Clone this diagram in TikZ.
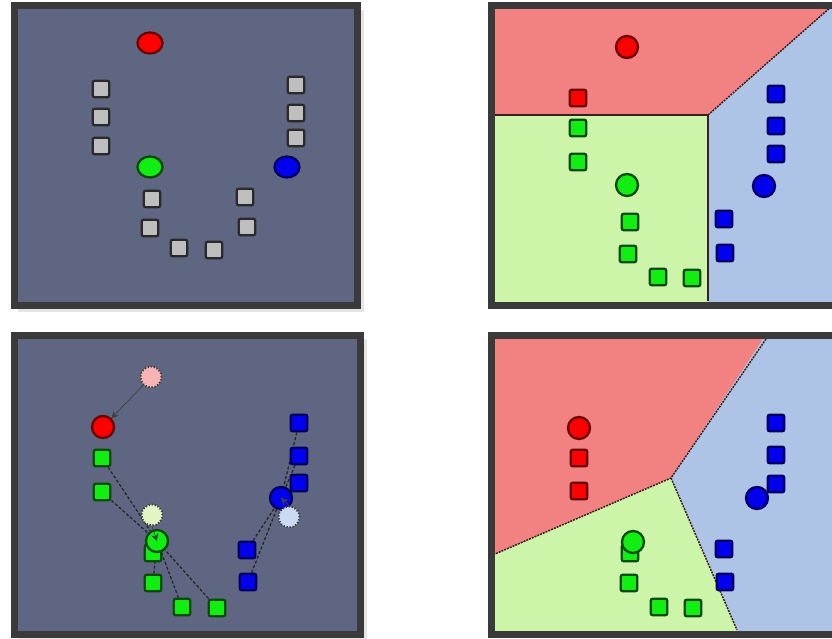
\documentclass[tikz,border=0pt]{standalone}
\usetikzlibrary{shapes.geometric,arrows.meta}
\pgfdeclarelayer{bg}
\pgfdeclarelayer{edges}
\pgfsetlayers{bg,edges,main}
\definecolor{framec}{HTML}{3A3A3A}
\definecolor{panelbg}{HTML}{5F6682}
\definecolor{regred}{HTML}{F28282}
\definecolor{reggreen}{HTML}{CCF5AA}
\definecolor{regblue}{HTML}{AEC4E6}
\definecolor{ptred}{HTML}{FF0000}
\definecolor{edred}{HTML}{6A0000}
\definecolor{ptgreen}{HTML}{11EE11}
\definecolor{edgreen}{HTML}{0A4A0A}
\definecolor{ptblue}{HTML}{0000EE}
\definecolor{edblue}{HTML}{000060}
\definecolor{sqgray}{HTML}{BEBEBE}
\definecolor{sqedge}{HTML}{2A2A2A}
\definecolor{palered}{HTML}{F8B4B4}
\definecolor{palegreen}{HTML}{E2F6C4}
\definecolor{paleblue}{HTML}{CADAF2}
\definecolor{bordc}{HTML}{3A2020}
\begin{document}
\begin{tikzpicture}[x=1pt,y=-1pt,
  frame/.style={draw=framec, line width=7pt},
  shadowbox/.style={fill=black!10},
  sqr/.style={rectangle, minimum size=16.5pt, inner sep=0pt, rounded corners=2pt, line width=2.3pt},
  grsq/.style={sqr, fill=sqgray, draw=sqedge},
  rsq/.style={sqr, fill=ptred, draw=edred},
  gsq/.style={sqr, fill=ptgreen, draw=edgreen},
  bsq/.style={sqr, fill=ptblue, draw=edblue},
  cen/.style={circle, minimum size=22pt, inner sep=0pt, line width=2.3pt},
  rcen/.style={cen, fill=ptred, draw=edred},
  gcen/.style={cen, fill=ptgreen, draw=edgreen},
  bcen/.style={cen, fill=ptblue, draw=edblue},
  oval/.style={ellipse, minimum width=25pt, minimum height=21pt, inner sep=0pt, line width=2.3pt},
  ghost/.style={circle, minimum size=21pt, inner sep=0pt, line width=2pt, draw=black!75, dash pattern=on 1.3pt off 1.8pt},
  link/.style={draw=black!85, line width=1.3pt, densely dashed},
  move/.style={draw=black!75, line width=0.7pt, -{Stealth[length=7pt,width=7pt]}},
  vline/.style={draw=bordc, line width=1.5pt},
  vdash/.style={draw=bordc, line width=1.5pt, dash pattern=on 2pt off 1pt}]
\useasboundingbox (0,0) rectangle (832,639);

\begin{pgfonlayer}{bg}
  % shadows
  \fill[shadowbox] (18,10) rectangle (364,312);
  \fill[shadowbox] (18,339) rectangle (367,639);
  % panel 1
  \fill[panelbg] (14,6) rectangle (357,305);
  \draw[frame] (14,6) rectangle (357,305);
  % panel 2 regions
  \fill[regred] (491,6) -- (832,6) -- (708,115) -- (491,115) -- cycle;
  \fill[reggreen] (491,115) -- (708,115) -- (708,305) -- (491,305) -- cycle;
  \fill[regblue] (708,115) -- (832,6) -- (832,305) -- (708,305) -- cycle;
  \draw[vline] (495,115) -- (708,115) -- (708,301);
  \draw[vdash] (708,115) -- (832,6);
  \draw[frame] (832,6) -- (491,6) -- (491,305) -- (832,305);
  % panel 3
  \fill[panelbg] (14.5,335.5) rectangle (360,634);
  \draw[frame] (14.5,335.5) rectangle (360,634);
  % panel 4 regions
  \fill[regred] (491,335) -- (766,335) -- (671,478) -- (491,556) -- cycle;
  \fill[regblue] (766,335) -- (832,335) -- (832,634) -- (739,634) -- (671,478) -- cycle;
  \fill[reggreen] (491,556) -- (671,478) -- (739,634) -- (491,634) -- cycle;
  \draw[vdash] (766,339) -- (671,478) -- (495,554);
  \draw[vdash] (671,478) -- (737,630);
  \draw[frame] (832,335.5) -- (491,335.5) -- (491,634.5) -- (832,634.5);
\end{pgfonlayer}

% ---------- panel 1 ----------
\node[oval, fill=ptred, draw=edred] (a-r) at (150,43) {};
\node[oval, fill=ptgreen, draw=edgreen] (a-g) at (150,167) {};
\node[oval, fill=ptblue, draw=edblue] (a-b) at (287,167) {};
\node[grsq] (a-s1) at (101,89) {};
\node[grsq] (a-s2) at (101,117) {};
\node[grsq] (a-s3) at (101,146) {};
\node[grsq] (a-s4) at (296,85) {};
\node[grsq] (a-s5) at (296,113) {};
\node[grsq] (a-s6) at (296,138) {};
\node[grsq] (a-s7) at (152,199) {};
\node[grsq] (a-s8) at (150,228) {};
\node[grsq] (a-s9) at (179,248) {};
\node[grsq] (a-s10) at (214,250) {};
\node[grsq] (a-s11) at (245,197) {};
\node[grsq] (a-s12) at (247,227) {};

% ---------- panel 2 ----------
\node[rcen] (b-r) at (627,47) {};
\node[rsq] (b-s1) at (578,98) {};
\node[gsq] (b-s2) at (578,128) {};
\node[gsq] (b-s3) at (578,162) {};
\node[gcen] (b-g) at (627,185) {};
\node[gsq] (b-s7) at (630,222) {};
\node[gsq] (b-s8) at (628,254) {};
\node[gsq] (b-s9) at (658,277) {};
\node[gsq] (b-s10) at (692,278) {};
\node[bsq] (b-s4) at (776,94) {};
\node[bsq] (b-s5) at (776,126) {};
\node[bsq] (b-s6) at (776,154) {};
\node[bcen] (b-b) at (764,186) {};
\node[bsq] (b-s11) at (724,219) {};
\node[bsq] (b-s12) at (725,253) {};

% ---------- panel 3 ----------
\node[ghost, fill=palered] (c-pr) at (151,377) {};
\node[rcen] (c-r) at (103,427) {};
\node[gsq] (c-s1) at (102,458) {};
\node[gsq] (c-s2) at (102,492) {};
\node[ghost, fill=palegreen] (c-pg) at (152,515) {};
\node[gsq] (c-s3) at (153,553) {};
\node[gcen] (c-g) at (157,541) {};
\node[gsq] (c-s4) at (153,583) {};
\node[gsq] (c-s5) at (182,607) {};
\node[gsq] (c-s6) at (217,608) {};
\node[bsq] (c-s7) at (299,423) {};
\node[bsq] (c-s8) at (299,456) {};
\node[bcen] (c-b) at (281,498) {};
\node[bsq] (c-s9) at (299,483) {};
\node[ghost, fill=paleblue] (c-pb) at (289,517) {};
\node[bsq] (c-s10) at (247,550) {};
\node[bsq] (c-s11) at (248,582) {};

\begin{pgfonlayer}{edges}
  \draw[link] (c-s1) -- (c-g);
  \draw[link] (c-s2) -- (c-g);
  \draw[link] (c-s4) -- (c-g);
  \draw[link] (c-s5) -- (c-g);
  \draw[link] (c-s6) -- (c-g);
  \draw[link] (c-s7) -- (c-b);
  \draw[link] (c-s8) -- (c-b);
  \draw[link] (c-s9) -- (c-b);
  \draw[link] (c-s10) -- (c-b);
  \draw[link] (c-s11) -- (c-b);
  \draw[move] (c-pr) -- (c-r);
\end{pgfonlayer}
\draw[move] (c-pg.south) -- (c-g.center);
\draw[move] (c-pb.north) -- (c-b.center);

% ---------- panel 4 ----------
\node[rcen] (d-r) at (579,428) {};
\node[rsq] (d-s1) at (579,458) {};
\node[rsq] (d-s2) at (579,491) {};
\node[gsq] (d-s3) at (630,553) {};
\node[gcen] (d-g) at (633,542) {};
\node[gsq] (d-s4) at (629,583) {};
\node[gsq] (d-s5) at (659,607) {};
\node[gsq] (d-s6) at (693,608) {};
\node[bsq] (d-s7) at (776,423) {};
\node[bsq] (d-s8) at (776,455) {};
\node[bcen] (d-b) at (757,498) {};
\node[bsq] (d-s9) at (776,484) {};
\node[bsq] (d-s10) at (724,549) {};
\node[bsq] (d-s11) at (725,582) {};
\end{tikzpicture}
\end{document}
